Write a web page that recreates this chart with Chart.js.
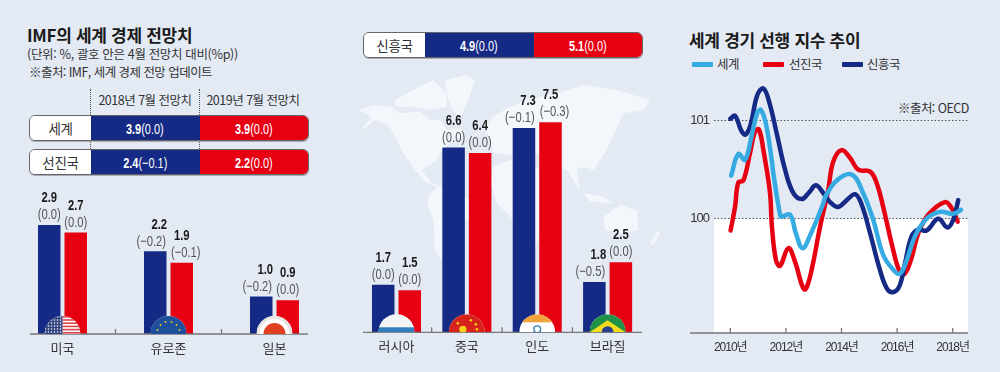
<!DOCTYPE html>
<html lang="ko">
<head>
<meta charset="utf-8">
<script src="https://cdn.jsdelivr.net/npm/chart.js@4/dist/chart.umd.min.js"></script>
<style>
  html, body { margin: 0; padding: 0; }
  body { position: relative; width: 1000px; height: 372px; overflow: hidden; background: #e3eaf4;
         font-family: "Noto Sans CJK KR", sans-serif; color: #333; }
  canvas { position: absolute; display: block; }
  .txt { position: absolute; white-space: nowrap; line-height: 1; }
  .title { font-size: 17px; font-weight: 700; color: #1a1a1a; letter-spacing: -0.3px; }
  .note { font-size: 12.5px; letter-spacing: -0.55px; }
  .head { font-size: 12.5px; letter-spacing: -0.5px; transform: translateX(-50%); }
  .dots { position: absolute; top: 89px; height: 86px; border-left: 1px dotted #555; }
  .strip { position: absolute; display: flex; box-sizing: border-box; height: 26px; border: 1px solid #666;
           border-radius: 6px; overflow: hidden; box-shadow: 0 1px 0 #aab; font-size: 13.5px; }
  .strip div { display: flex; align-items: center; justify-content: center; height: 100%; }
  .strip .name { background: #fff; letter-spacing: -0.3px; }
  .strip .num { color: #fff; font-family: "Liberation Sans", sans-serif; font-size: 15px; }
  .strip .num span { display: inline-block; transform: scaleX(0.73); white-space: nowrap; }
  .swatch { position: absolute; top: 62px; height: 5px; width: 21px; border-radius: 1px; }
</style>
</head>
<body>

<svg style="position:absolute;left:350px;top:70px" width="310" height="200" viewBox="0 0 930 600" fill="#f3f6fb">
  <path d="M25 120L70 105L125 110L150 130L210 125L240 150L270 150L290 180L330 175L345 195L300 215L280 240L255 275L215 300L245 340L280 350L270 355L225 335L195 300L160 250L140 210L115 165L75 150L30 185L65 140Z"/>
  <path d="M135 90L200 55L250 30L290 70L290 110L240 120L180 110L135 110Z"/>
  <path d="M285 30L350 15L375 30L355 90L330 145L305 115L290 70Z"/>
  <path d="M235 375L270 345L345 380L425 425L345 450L300 500L275 570L255 540L250 450L232 400Z"/>
  <path d="M405 170L430 140L470 115L530 90L620 70L700 45L800 60L900 90L880 120L820 130L800 175L770 240L730 300L700 290L680 300L690 360L650 300L630 290L570 250L480 255L430 250L420 210Z"/>
  <path d="M430 290L480 270L560 290L600 350L640 340L590 420L560 520L510 540L490 450L440 400L420 330Z"/>
  <path d="M760 440L810 405L860 420L865 480L815 490L765 480Z"/>
  <path d="M700 370L760 380L790 400L720 395Z"/>
  <path d="M900 520L925 480L930 490L910 525Z"/>
</svg>

<div class="txt title" style="left:27px;top:26px">IMF의 세계 경제 전망치</div>
<div class="txt note" style="left:27px;top:48px;letter-spacing:-0.35px">(단위: %, 괄호 안은 4월 전망치 대비(%p))</div>
<div class="txt note" style="left:29px;top:66px">※출처: IMF, 세계 경제 전망 업데이트</div>
<div class="dots" style="left:90px"></div>
<div class="dots" style="left:199px"></div>
<div class="txt head" style="left:145px;top:94px">2018년 7월 전망치</div>
<div class="txt head" style="left:253px;top:94px">2019년 7월 전망치</div>
<div id="strips"></div>

<div class="txt title" style="left:689px;top:31px">세계 경기 선행 지수 추이</div>
<div class="swatch" style="left:692px;background:#36abe2"></div>
<div class="txt note" style="left:717px;top:58px">세계</div>
<div class="swatch" style="left:763px;background:#e60012"></div>
<div class="txt note" style="left:789px;top:58px">선진국</div>
<div class="swatch" style="left:842px;background:#152a85"></div>
<div class="txt note" style="left:867px;top:58px">신흥국</div>
<div class="txt note" style="left:898px;top:102px">※출처: OECD</div>

<canvas id="advancedChart" width="340" height="190" style="left:0;top:180px"></canvas>
<canvas id="emergingChart" width="320" height="310" style="left:340px;top:60px"></canvas>
<canvas id="leadingChart" width="330" height="300" style="left:670px;top:70px"></canvas>

<script>
const BLUE = '#152a85';
const RED = '#e60012';
const SKY = '#36abe2';
const NUM_FONT = '"Liberation Sans", "Noto Sans CJK KR", sans-serif';

// summary strips
const stripNames = ['세계', '선진국', '신흥국'];
const strip2018 = ['3.9', '2.4', '4.9'];
const strip2018Delta = ['(0.0)', '(−0.1)', '(0.0)'];
const strip2019 = ['3.9', '2.2', '5.1'];
const strip2019Delta = ['(0.0)', '(0.0)', '(0.0)'];

// advanced economies
const advancedLabels = ['미국', '유로존', '일본'];
const advanced2018 = [2.9, 2.2, 1.0];
const advanced2019 = [2.7, 1.9, 0.9];
const advanced2018Delta = ['(0.0)', '(−0.2)', '(−0.2)'];
const advanced2019Delta = ['(0.0)', '(−0.1)', '(0.0)'];
const advancedFlags = ['us', 'eu', 'jp'];

// emerging economies
const emergingLabels = ['러시아', '중국', '인도', '브라질'];
const emerging2018 = [1.7, 6.6, 7.3, 1.8];
const emerging2019 = [1.5, 6.4, 7.5, 2.5];
const emerging2018Delta = ['(0.0)', '(0.0)', '(−0.1)', '(−0.5)'];
const emerging2019Delta = ['(0.0)', '(0.0)', '(−0.3)', '(0.0)'];
const emergingFlags = ['ru', 'cn', 'in', 'br'];

// leading index
const worldYears = [2010.03, 2010.29, 2010.53, 2010.77, 2010.97, 2011.10, 2011.28, 2011.49, 2011.55, 2011.79, 2011.85, 2012.15, 2012.36, 2012.60, 2012.87, 2013.35, 2013.41, 2013.83, 2014.37, 2014.78, 2015.14, 2015.50, 2015.86, 2016.10, 2016.35, 2016.64, 2017.06, 2017.54, 2018.02, 2018.30];
const worldValues = [100.44, 100.66, 100.60, 100.85, 101.08, 101.11, 100.97, 100.60, 100.46, 100.04, 100.02, 100.04, 99.85, 99.70, 99.83, 100.16, 100.22, 100.39, 100.45, 100.26, 99.99, 99.63, 99.48, 99.44, 99.58, 99.82, 100.00, 100.07, 100.05, 100.09];
const advancedYears = [2010.01, 2010.17, 2010.29, 2010.47, 2010.71, 2010.89, 2011.03, 2011.19, 2011.43, 2011.49, 2011.64, 2011.79, 2012.09, 2012.33, 2012.66, 2012.87, 2013.23, 2013.52, 2013.70, 2014.00, 2014.31, 2014.60, 2015.03, 2015.27, 2015.50, 2015.86, 2016.10, 2016.28, 2016.52, 2016.76, 2017.12, 2017.72, 2017.96, 2018.18];
const advancedValues = [99.88, 100.12, 100.37, 100.39, 100.67, 100.89, 100.91, 100.70, 100.26, 99.95, 99.58, 99.52, 99.70, 99.56, 99.28, 99.41, 99.92, 100.29, 100.58, 100.70, 100.62, 100.50, 100.48, 100.36, 100.12, 99.68, 99.46, 99.44, 99.60, 99.85, 100.04, 100.17, 100.11, 99.97];
const emergingYears = [2010.00, 2010.17, 2010.41, 2010.56, 2010.74, 2010.97, 2011.19, 2011.40, 2011.67, 2011.97, 2012.27, 2012.57, 2012.81, 2013.08, 2013.35, 2013.59, 2013.88, 2014.19, 2014.49, 2014.73, 2015.03, 2015.38, 2015.63, 2015.84, 2016.08, 2016.28, 2016.52, 2016.76, 2017.06, 2017.48, 2017.81, 2018.02, 2018.20];
const emergingValues = [101.02, 101.05, 100.89, 100.86, 100.97, 101.26, 101.33, 101.19, 100.87, 100.50, 100.26, 100.20, 100.26, 100.34, 100.26, 100.17, 100.12, 100.19, 100.25, 100.14, 99.85, 99.48, 99.29, 99.25, 99.31, 99.54, 99.82, 99.89, 99.88, 100.00, 99.91, 99.99, 100.19];
const indexYearTicks = [2010, 2012, 2014, 2016, 2018];
const indexValueTicks = [100, 101];

function renderStrips() {
  const boxes = [
    { left: 29, top: 115, nameW: 61, cellW: 108.5 },
    { left: 29, top: 149, nameW: 61, cellW: 108.5 },
    { left: 363, top: 32, nameW: 61, cellW: 108.5 }
  ];
  const html = stripNames.map((name, i) => {
    const b = boxes[i];
    return `<div class="strip" style="left:${b.left}px;top:${b.top}px;width:${b.nameW + b.cellW * 2 + 2}px">
      <div class="name" style="width:${b.nameW}px">${name}</div>
      <div class="num" style="width:${b.cellW}px;background:${BLUE}"><span><b>${strip2018[i]}</b>${strip2018Delta[i]}</span></div>
      <div class="num" style="width:${b.cellW}px;background:${RED}"><span><b>${strip2019[i]}</b>${strip2019Delta[i]}</span></div>
    </div>`;
  }).join('');
  document.getElementById('strips').innerHTML = html;
}

function drawFlag(ctx, kind, cx, base, r) {
  const dots = (color, size, pts) => {
    ctx.fillStyle = color;
    pts.forEach(p => { ctx.beginPath(); ctx.arc(cx + p[0], base + p[1], size, 0, Math.PI * 2); ctx.fill(); });
  };
  ctx.save();
  ctx.beginPath();
  ctx.arc(cx, base, r, Math.PI, 0);
  ctx.closePath();
  ctx.clip();
  ctx.fillStyle = '#fff';
  ctx.fillRect(cx - r, base - r, r * 2, r);
  if (kind === 'us') {
    ctx.fillStyle = '#d8434a';
    for (let i = 0; i < 6; i++) ctx.fillRect(cx, base - r + i * 3.2, r, 1.6);
    ctx.fillStyle = '#31407f';
    ctx.fillRect(cx - r, base - r, r, r);
    const stars = [];
    for (let y = -2; y > -r; y -= 3) for (let x = -2; x > -r; x -= 3) stars.push([x, y]);
    dots('#fff', 0.8, stars);
  } else if (kind === 'eu') {
    ctx.fillStyle = '#1d4f9c';
    ctx.fillRect(cx - r, base - r, r * 2, r);
    dots('#f2d21b', 0.9, [[-11, -4], [-8, -9], [-3, -12], [3, -12], [8, -9], [11, -4]]);
  } else if (kind === 'jp') {
    ctx.fillStyle = '#e8e4e0';
    ctx.fillRect(cx - r, base - r, r * 2, r);
    ctx.fillStyle = '#fff';
    ctx.beginPath(); ctx.arc(cx, base, r - 3, 0, Math.PI * 2); ctx.fill();
    ctx.fillStyle = '#e0401f';
    ctx.beginPath(); ctx.arc(cx, base, r - 7, 0, Math.PI * 2); ctx.fill();
  } else if (kind === 'ru') {
    ctx.fillStyle = '#f2f4f6';
    ctx.fillRect(cx - r, base - r, r * 2, r);
    ctx.fillStyle = '#2f7fbf';
    ctx.fillRect(cx - r, base - 5, r * 2, 5);
  } else if (kind === 'cn') {
    ctx.fillStyle = '#d7231c';
    ctx.fillRect(cx - r, base - r, r * 2, r);
    dots('#f6d21a', 3.6, [[-4, -3]]);
    dots('#f6d21a', 1.3, [[4, -12], [9, -8], [10, -3], [-9, -9]]);
  } else if (kind === 'in') {
    ctx.fillStyle = '#f1a33c';
    ctx.fillRect(cx - r, base - r, r * 2, 8);
    ctx.strokeStyle = '#3b7fb5';
    ctx.lineWidth = 1.4;
    ctx.beginPath(); ctx.arc(cx, base - 3, 3.4, 0, Math.PI * 2); ctx.stroke();
  } else if (kind === 'br') {
    ctx.fillStyle = '#1f9247';
    ctx.fillRect(cx - r, base - r, r * 2, r);
    ctx.fillStyle = '#f3dc1d';
    ctx.beginPath();
    ctx.moveTo(cx, base - 12); ctx.lineTo(cx + r, base); ctx.lineTo(cx - r, base);
    ctx.fill();
    ctx.fillStyle = '#25408f';
    ctx.beginPath(); ctx.arc(cx, base, 6, 0, Math.PI * 2); ctx.fill();
  }
  ctx.restore();
}

// axis line with ticks pointing up
const baseAxisPlugin = {
  id: 'baseAxis',
  afterDatasetsDraw(chart, args, opts) {
    const { ctx, scales: { x }, chartArea } = chart;
    const y = chartArea.bottom;
    ctx.save();
    ctx.strokeStyle = '#777';
    ctx.lineWidth = 1.3;
    ctx.beginPath();
    ctx.moveTo(opts.from, y);
    ctx.lineTo(opts.to, y);
    opts.marks(x).forEach(px => { ctx.moveTo(px, y); ctx.lineTo(px, y - 5); });
    ctx.stroke();
    ctx.restore();
  }
};

// the reference's numbers are a condensed face, so squeeze Liberation Sans
function narrowText(ctx, text, x, y) {
  ctx.save();
  ctx.translate(x, y);
  ctx.scale(0.75, 1);
  ctx.fillText(text, 0, 0);
  ctx.restore();
}

const barNotesPlugin = {
  id: 'barNotes',
  afterDatasetsDraw(chart, args, opts) {
    const { ctx } = chart;
    ctx.save();
    ctx.textAlign = 'center';
    ctx.textBaseline = 'middle';
    chart.data.datasets.forEach((ds, d) => {
      chart.getDatasetMeta(d).data.forEach((bar, i) => {
        const delta = opts.deltas[d][i];
        const wide = delta.includes('−');
        const out = d === 0 ? -4 : 4;
        ctx.font = 'bold 15px ' + NUM_FONT;
        ctx.fillStyle = '#1a1a1a';
        narrowText(ctx, ds.data[i].toFixed(1), bar.x + (wide && d === 0 ? 4 : 0), bar.y - 27);
        ctx.font = '15px ' + NUM_FONT;
        ctx.fillStyle = '#555';
        narrowText(ctx, delta, bar.x + (wide ? out : 0), bar.y - 10);
      });
    });
    opts.flags.forEach((kind, i) => {
      const cx = chart.scales.x.getPixelForValue(i);
      drawFlag(ctx, kind, cx, chart.chartArea.bottom, 18);
    });
    ctx.restore();
  }
};

// tighter digits for the tick labels of the line chart
const tightTicksPlugin = {
  id: 'tightTicks',
  beforeUpdate(chart) { chart.ctx.letterSpacing = '-1px'; },
  beforeDraw(chart) { chart.ctx.letterSpacing = '-1px'; }
};

function barChart(id, labels, first, second, deltas, flags, yMax, padding, axisFrom, axisTo, xHeight, categoryPercentage) {
  return new Chart(document.getElementById(id), {
    type: 'bar',
    data: {
      labels,
      datasets: [
        { data: first, backgroundColor: BLUE },
        { data: second, backgroundColor: RED }
      ]
    },
    options: {
      responsive: false,
      animation: false,
      categoryPercentage,
      barPercentage: 0.849,
      layout: { padding },
      scales: {
        x: {
          grid: { display: false, drawTicks: false },
          border: { display: false },
          ticks: { color: '#333', padding: 6, maxRotation: 0, font: { family: 'Noto Sans CJK KR', size: 13 } },
          afterFit: s => { s.height = xHeight; }
        },
        y: { display: false, min: 0, max: yMax }
      },
      plugins: {
        legend: { display: false },
        tooltip: { enabled: false },
        barNotes: { deltas, flags },
        baseAxis: {
          from: axisFrom,
          to: axisTo,
          marks: x => labels.slice(1).map((l, i) => x.getPixelForValue(i + 0.5))
        }
      }
    },
    plugins: [baseAxisPlugin, barNotesPlugin]
  });
}

const whiteBelowPlugin = {
  id: 'whiteBelow',
  beforeDraw(chart) {
    const { ctx, chartArea, scales: { y } } = chart;
    const top = y.getPixelForValue(100);
    ctx.save();
    ctx.fillStyle = '#fff';
    ctx.fillRect(chartArea.left, top, chartArea.right - chartArea.left, chartArea.bottom - top);
    ctx.restore();
  }
};

function indexLine(years, values, color) {
  return {
    data: years.map((year, i) => ({ x: year, y: values[i] })),
    borderColor: color,
    borderWidth: 4.5,
    borderCapStyle: 'round',
    borderJoinStyle: 'round',
    pointRadius: 0,
    tension: 0.4,
    clip: false
  };
}

renderStrips();

barChart('advancedChart', advancedLabels, advanced2018, advanced2019,
  [advanced2018Delta, advanced2019Delta], advancedFlags, 4.1,
  { left: 9.5, right: 12.5, top: 0, bottom: 0 }, 30, 308, 36, 0.5);

barChart('emergingChart', emergingLabels, emerging2018, emerging2019,
  [emerging2018Delta, emerging2019Delta], emergingFlags, 9.725,
  { left: 21.3, right: 17.2, top: 0, bottom: 0 }, 23, 302, 37.7, 0.754);

new Chart(document.getElementById('leadingChart'), {
  type: 'line',
  data: {
    datasets: [
      indexLine(worldYears, worldValues, SKY),
      indexLine(emergingYears, emergingValues, BLUE),
      indexLine(advancedYears, advancedValues, RED)
    ]
  },
  options: {
    responsive: false,
    animation: false,
    layout: { padding: { left: 0, right: 32, top: 0, bottom: 0 } },
    scales: {
      x: {
        type: 'linear',
        min: 2009.414,
        max: 2018.55,
        grid: { display: false, drawTicks: false },
        border: { display: false },
        afterBuildTicks: s => { s.ticks = indexYearTicks.map(value => ({ value })); },
        afterFit: s => { s.height = 37; },
        ticks: {
          color: '#333',
          padding: 7,
          maxRotation: 0,
          autoSkip: false,
          font: { family: NUM_FONT, size: 12 },
          callback: v => v + '년'
        }
      },
      y: {
        min: 98.834,
        max: 101.517,
        border: { display: false, dash: [1.5, 2] },
        grid: { color: '#555', lineWidth: 1, drawTicks: false },
        afterBuildTicks: s => { s.ticks = indexValueTicks.map(value => ({ value })); },
        afterFit: s => { s.width = 44; s.paddingTop = 0; s.paddingBottom = 0; },
        ticks: { color: '#333', padding: 5, font: { family: NUM_FONT, size: 13 } }
      }
    },
    plugins: {
      legend: { display: false },
      tooltip: { enabled: false },
      baseAxis: {
        from: 20,
        to: 298,
        marks: x => indexYearTicks.map(v => x.getPixelForValue(v))
      }
    }
  },
  plugins: [tightTicksPlugin, whiteBelowPlugin, baseAxisPlugin]
});
</script>
</body>
</html>
